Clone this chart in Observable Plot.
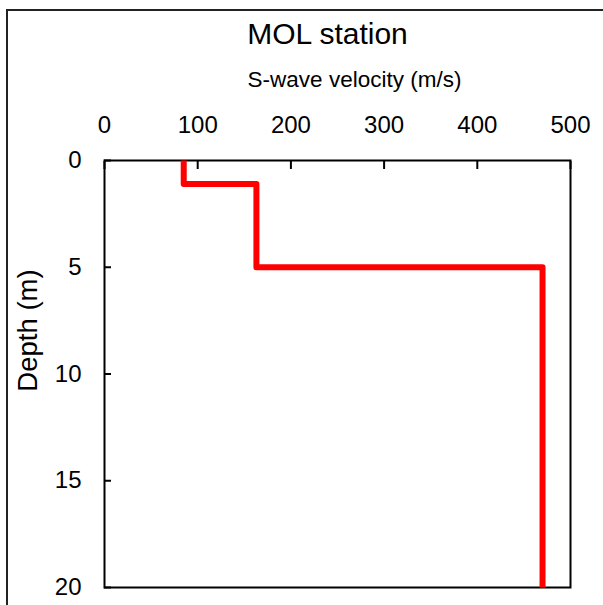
<!DOCTYPE html>
<html>
<head>
<meta charset="utf-8">
<script src="https://cdn.jsdelivr.net/npm/d3@7"></script>
<script src="https://cdn.jsdelivr.net/npm/@observablehq/plot@0.6"></script>
<style>
  body { margin: 0; background: #fff; }
  #wrap { position: relative; width: 603px; height: 605px; overflow: hidden; background: #fff; }
  #border { position: absolute; left: 6px; top: 9px; width: 640px; height: 640px; border: 2px solid #222; pointer-events: none; }
  #wrap svg { position: absolute; left: 0; top: 0; }
</style>
</head>
<body>
<div id="wrap"><div id="border"></div></div>
<script>
const title = "MOL station";
const xLabel = "S-wave velocity (m/s)";
const yLabel = "Depth (m)";
const velocities = [85, 163, 470];     // m/s per layer
const layerTops = [0, 1.1, 5];         // m
const bottomDepth = 20;                // m
const xTicks = [0, 100, 200, 300, 400, 500];
const yTicks = [0, 5, 10, 15, 20];

const profile = [];
velocities.forEach((v, i) => {
  const top = layerTops[i];
  const bot = i + 1 < layerTops.length ? layerTops[i + 1] : bottomDepth;
  profile.push({v, d: top}, {v, d: bot});
});

const font = "'Liberation Sans', Arial, Helvetica, sans-serif";
const chart = Plot.plot({
  width: 603,
  height: 605,
  marginLeft: 104,
  marginRight: 33,
  marginTop: 160,
  marginBottom: 18,
  style: {fontFamily: font, color: "#000", background: "transparent", overflow: "visible"},
  x: {domain: [0, 500]},
  y: {domain: [0, 20], reverse: true},
  marks: [
    Plot.axisX(xTicks, {anchor: "top", tickSize: -8, tickPadding: 36, fontSize: 24, label: null, stroke: "#000", strokeWidth: 2, strokeOpacity: 1}),
    Plot.axisY(yTicks, {anchor: "left", tickSize: -7, tickPadding: 30, fontSize: 24, label: null, stroke: "#000", strokeWidth: 2, strokeOpacity: 1}),
    Plot.frame({stroke: "#000", strokeWidth: 2}),
    Plot.line(profile, {x: "v", y: "d", stroke: "#ff0000", strokeWidth: 6, strokeLinejoin: "round", strokeLinecap: "butt"}),
    Plot.text([title], {frameAnchor: "top-left", dx: 223, dy: -117, textAnchor: "middle", lineAnchor: "bottom", fontSize: 30, fill: "#000"}),
    Plot.text([xLabel], {frameAnchor: "top-left", dx: 250, dy: -74, textAnchor: "middle", lineAnchor: "bottom", fontSize: 22.5, fill: "#000"}),
    Plot.text([yLabel], {frameAnchor: "top-left", dx: -76, dy: 170, rotate: -90, textAnchor: "middle", lineAnchor: "middle", fontSize: 27.5, fill: "#000"})
  ]
});
document.getElementById("wrap").appendChild(chart);
</script>
</body>
</html>
